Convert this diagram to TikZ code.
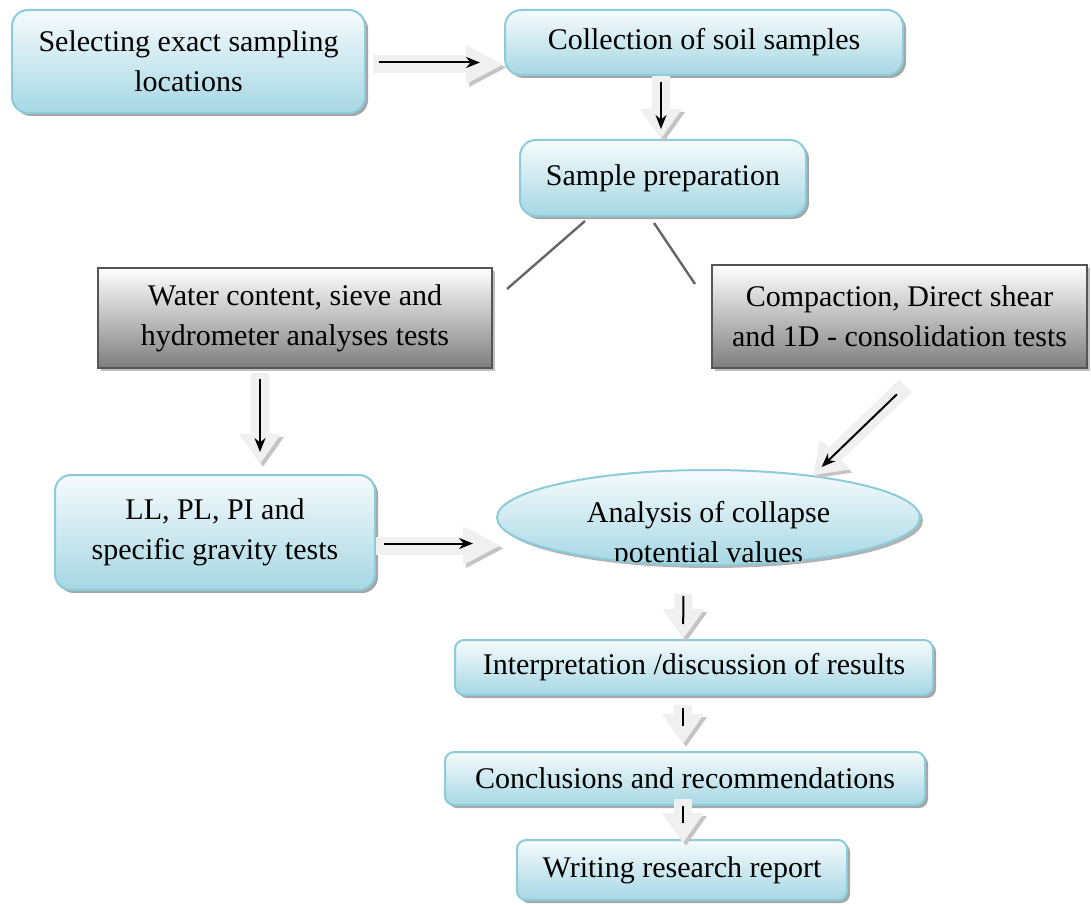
\documentclass[tikz,border=0pt]{standalone}
\usepackage{fontspec}
\setmainfont{Liberation Serif}
\usetikzlibrary{shapes.geometric,shadows,arrows.meta}

\definecolor{boxtop}{HTML}{F6FBFC}
\definecolor{boxbot}{HTML}{A6D7E4}
\definecolor{boxline}{HTML}{8CCBDA}
\definecolor{graybot}{HTML}{7E7E7E}
\definecolor{grayline}{HTML}{555555}
\definecolor{arrfill}{HTML}{F0F0F0}
\definecolor{arrshadow}{HTML}{C4C4C4}
\definecolor{lineclr}{HTML}{666666}

\tikzstyle{txt} = [font=\fontsize{30}{40}\selectfont, align=center, inner sep=0pt]
\tikzstyle{bluebox} = [txt, draw=boxline, line width=2pt, rounded corners=16pt, top color=boxtop, bottom color=boxbot, drop shadow={shadow xshift=3pt, shadow yshift=-3pt, fill=gray!70, opacity=1}]
\tikzstyle{flatbox} = [bluebox, rounded corners=9pt]
\tikzstyle{graybox} = [txt, draw=grayline, line width=2pt, top color=white, bottom color=graybot, drop shadow={shadow xshift=3pt, shadow yshift=-3pt, fill=gray!50, opacity=1}]
\tikzstyle{barrow} = [line width=18pt, arrfill, -{Triangle[length=30pt,width=40pt]}, preaction={draw=arrshadow, transform canvas={xshift=3pt,yshift=-3pt}}]
\tikzstyle{barrowh} = [barrow, -{Triangle[length=38pt,width=36pt]}]
\tikzstyle{arrow} = [line width=2pt, black, -{Stealth[length=14pt,width=11pt]}]
\tikzstyle{bline} = [line width=2pt, black]
\tikzstyle{gline} = [line width=2.4pt, lineclr]

\begin{document}
\begin{tikzpicture}[x=1pt, y=-1pt]
\useasboundingbox (0,0) rectangle (1091,904);

% Top row
\node [bluebox, minimum width=353pt, minimum height=103pt] (sel) at (188.5,61.5) {Selecting exact sampling\\locations};
\node [bluebox, minimum width=398pt, minimum height=65pt] (coll) at (704,42.5) {Collection of soil samples};
\node [bluebox, minimum width=286pt, minimum height=76pt] (samp) at (663,178) {Sample preparation};

% Test boxes
\node [graybox, minimum width=394pt, minimum height=100pt] (water) at (295,318) {Water content, sieve and\\hydrometer analyses tests};
\node [graybox, minimum width=375pt, minimum height=103pt] (comp) at (899.5,316.5) {Compaction, Direct shear\\and 1D - consolidation tests};
\node [bluebox, minimum width=320pt, minimum height=115pt] (ll) at (215,532.5) {LL, PL, PI and\\specific gravity tests};

% Analysis ellipse (text cut off by its edge)
\node [ellipse, draw=boxline, line width=2pt, top color=boxtop, bottom color=boxbot, drop shadow={shadow xshift=3pt, shadow yshift=-3pt, fill=gray!60, opacity=1}, minimum width=423pt, minimum height=95pt] (ana) at (708.5,517.5) {};
\begin{scope}
\clip (ana.center) ellipse [x radius=211.5, y radius=47.5];
\node [txt] (anatext) at (708.5,535) {Analysis of collapse\\potential values};
\end{scope}

% Bottom column
\node [flatbox, minimum width=478pt, minimum height=55pt] (interp) at (694,667.5) {Interpretation /discussion of results};
\node [flatbox, minimum width=480pt, minimum height=53pt] (concl) at (685,778.5) {Conclusions and recommendations};
\node [flatbox, minimum width=330pt, minimum height=60pt] (write) at (682,870) {Writing research report};

% Lines out of sample preparation
\draw [gline] ([shift={(-78pt,-4pt)}]samp.south) -- ([shift={(14pt,-22pt)}]water.north east);
\draw [gline] ([shift={(-9pt,-6pt)}]samp.south) -- ([shift={(-16pt,-20pt)}]comp.north west);

% Block arrows
\draw [barrowh, shorten <=7pt] ([yshift=-3pt]sel.east) -- ([yshift=-3pt]sel.east -| coll.west);
\draw [arrow, shorten <=13pt, shorten >=24pt] ([yshift=-1pt]sel.east) -- ([yshift=-1pt]sel.east -| coll.west);

\draw [barrow] ([xshift=-2pt]samp.north |- coll.south) -- ([xshift=-2pt]samp.north);
\draw [arrow, shorten <=6pt, shorten >=10pt] ([xshift=-2pt]samp.north |- coll.south) -- ([xshift=-2pt]samp.north);

\draw [barrow, shorten <=4pt, shorten >=10pt] ([xshift=-35pt]water.south) -- ([xshift=45pt]ll.north);
\draw [arrow, shorten <=10pt, shorten >=22pt] ([xshift=-35pt]water.south) -- ([xshift=45pt]ll.north);

\draw [barrow] ([shift={(6pt,-17pt)}]comp.south) -- (ana.22);
\draw [arrow, shorten <=12pt, shorten >=12pt] ([shift={(6pt,-17pt)}]comp.south) -- (ana.22);

\draw [barrowh] ([yshift=-13pt]ll.east) -- ([shift={(5pt,-13pt)}]ll.east -| ana.west);
\draw [arrow, shorten <=8pt, shorten >=28pt] ([yshift=-11pt]ll.east) -- ([shift={(5pt,-11pt)}]ll.east -| ana.west);

\draw [barrow] ([shift={(-25pt,-28pt)}]ana.south) -- ([xshift=-11pt]interp.north);
\draw [bline, shorten <=2pt, shorten >=15pt] ([shift={(-25pt,-28pt)}]ana.south) -- ([xshift=-11pt]interp.north);

\draw [barrow] ([shift={(-11pt,-9pt)}]interp.south) -- ([shift={(-2pt,7pt)}]concl.north);
\draw [bline, shorten <=3pt, shorten >=18pt] ([shift={(-11pt,-9pt)}]interp.south) -- ([shift={(-2pt,7pt)}]concl.north);

\draw [barrow] ([shift={(-2pt,7pt)}]concl.south) -- ([shift={(1pt,-4pt)}]write.north);
\draw [bline, shorten <=7pt, shorten >=20pt] ([shift={(-2pt,7pt)}]concl.south) -- ([shift={(1pt,-4pt)}]write.north);

\end{tikzpicture}
\end{document}
